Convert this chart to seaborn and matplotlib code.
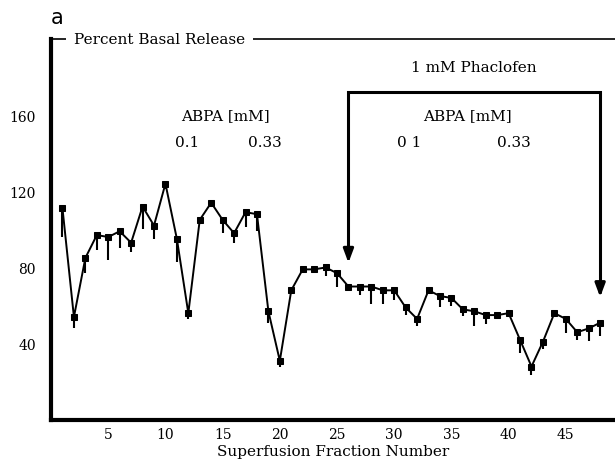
import matplotlib
matplotlib.use('Agg')
import matplotlib.pyplot as plt
import seaborn as sns
import numpy as np
import pandas as pd

sns.set_style("white")
plt.rcParams['font.family'] = ['DejaVu Serif']
plt.rcParams.update({'text.color': 'black', 'axes.labelcolor': 'black',
                     'xtick.color': 'black', 'ytick.color': 'black'})

# superfusion fractions and percent basal release (mean, lower error)
fraction = list(range(1, 49))
release = [111, 54, 85, 97, 96, 99, 93, 112, 102, 124, 95, 56, 105, 114, 105, 98,
           109, 108, 57, 31, 68, 79, 79, 80, 77, 70, 70, 70, 68, 68, 59, 53,
           68, 65, 64, 58, 57, 55, 55, 56, 42, 28, 41, 56, 53, 46, 48, 51]
err_low = [15, 6, 8, 8, 12, 9, 5, 12, 7, 3, 12, 3, 2, 2, 7, 5,
           8, 9, 6, 3, 2, 1.5, 1, 4.5, 7.5, 2.6, 4.4, 9, 7, 5.3, 4, 3.5,
           2, 5.6, 4.2, 3.5, 7.5, 4.7, 1.5, 2, 6.7, 4.4, 3.8, 2, 7.4, 3.9, 6.7, 7]

yticks = [40, 80, 120, 160]
xticks = [5, 10, 15, 20, 25, 30, 35, 40, 45]

# phaclofen bracket (fraction start, end) and arrow tips
phaclofen_span = (26, 48)
bracket_top = 172
arrow_tips = (81, 63)

df = pd.DataFrame({'fraction': fraction, 'release': release})

fig = plt.figure(figsize=(6.15, 4.64), dpi=100)
ax = fig.add_axes([0.083, 0.093, 0.917, 0.821])

# one-sided (downward) error bars
ax.errorbar(fraction, release, yerr=[err_low, np.zeros(len(err_low))],
            fmt='none', ecolor='black', elinewidth=1.5, capsize=0)
sns.lineplot(data=df, x='fraction', y='release', ax=ax, color='black',
             marker='s', markersize=4.3, markeredgecolor='black', linewidth=1.4)

ax.set_xlim(0, 49.3)
ax.set_ylim(0, 200)
ax.set_xticks(xticks)
ax.set_yticks(yticks)
ax.tick_params(direction='in', length=4, width=1, labelsize=10)
ax.tick_params(axis='y', pad=11)
ax.tick_params(axis='x', pad=5)

for side in ['left', 'bottom']:
    ax.spines[side].set_linewidth(3)
    ax.spines[side].set_color('black')
ax.spines['top'].set_linewidth(1.2)
ax.spines['top'].set_color('black')
ax.spines['right'].set_visible(False)

ax.set_xlabel('Superfusion Fraction Number', fontsize=11, labelpad=2)
ax.set_ylabel('')

ax.text(2.0, 200, 'Percent Basal Release', fontsize=11, ha='left', va='center',
        bbox=dict(boxstyle='square,pad=0.5', fc='white', ec='none'))

# phaclofen bracket with arrows
x0, x1 = phaclofen_span
ax.plot([x0, x0, x1, x1], [arrow_tips[0] + 4, bracket_top, bracket_top, arrow_tips[1] + 4],
        color='black', linewidth=2.2, solid_joinstyle='miter')
for xa, tip in zip(phaclofen_span, arrow_tips):
    ax.annotate('', xy=(xa, tip), xytext=(xa, tip + 8),
                arrowprops=dict(arrowstyle='-|>,head_length=0.8,head_width=0.3',
                                color='black', lw=2.2))
ax.text(37.0, 185, '1 mM Phaclofen', fontsize=11, ha='center', va='center')

ax.text(15.2, 160, 'ABPA [mM]', fontsize=11, ha='center', va='center')
ax.text(11.9, 146, '0.1', fontsize=11, ha='center', va='center')
ax.text(18.7, 146, '0.33', fontsize=11, ha='center', va='center')
ax.text(36.4, 160, 'ABPA [mM]', fontsize=11, ha='center', va='center')
ax.text(31.3, 146, '0 1', fontsize=11, ha='center', va='center')
ax.text(40.5, 146, '0.33', fontsize=11, ha='center', va='center')

fig.text(0.093, 0.962, 'a', fontsize=15, family='DejaVu Sans', ha='center', va='center')

plt.savefig('out.png', dpi=100)
plt.close('all')
